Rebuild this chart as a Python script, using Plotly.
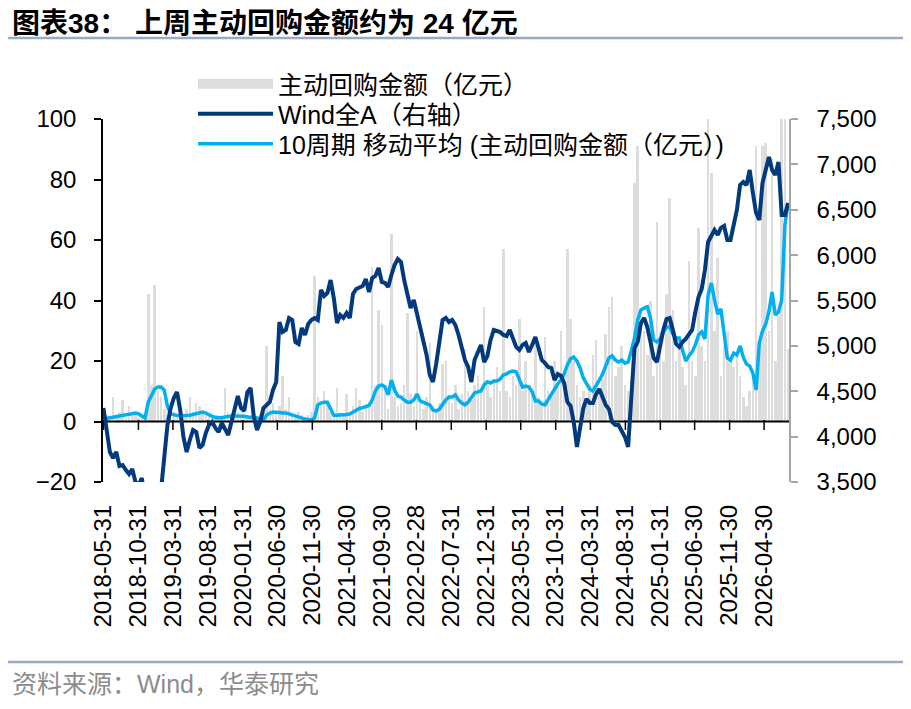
import pandas as pd
import plotly.graph_objects as go

# 主动回购金额（亿元），按两周取点读图
buyback = [1, 2, 1, 8, 2, 3, 7, 1, 5, 2, 3, 1, 2, 1,
           42, 12, 45, 10, 8, 4,
           2, 1, 3, 1, 2, 1, 4, 8, 3, 6, 5, 3, 2, 2, 1, 2,
           1, 2, 11, 3, 2, 1, 3, 2, 1, 2, 1, 3, 1, 2, 3,
           25, 4, 6, 3, 5, 15, 4, 8, 2, 1, 3, 2, 1, 2, 3,
           48, 8, 5, 10, 6, 3, 2, 11, 3, 2, 9, 3, 5, 11, 7, 3, 5, 6,
           51, 12, 37, 32, 10, 4, 62, 8, 5, 6, 12, 36, 9, 5, 30, 6,
           4, 8, 26, 5, 3, 6, 19, 20, 8, 6, 12, 4, 9, 24, 10, 7, 12, 15, 10,
           38, 12, 8, 14, 18, 10, 57, 10, 8, 15, 12, 34, 10, 20, 12, 9, 27,
           8, 6, 28, 10, 8, 20, 12, 30, 15, 57, 34, 20, 12, 8, 10, 6, 12,
           22, 27, 10, 14, 29, 38, 41, 15, 18, 25, 12, 10, 14,
           79, 91, 35, 30, 22, 40, 15, 66, 30, 20, 42, 74, 37, 20, 25, 18, 12, 53, 20, 15, 64, 25, 20,
           105, 82, 30, 54, 15, 25, 30, 20, 18, 22, 15, 8, 5, 10, 14,
           91, 25, 91, 92, 30, 87, 20, 35, 130, 150, 24]

# 10周期移动平均（亿元）
buyback_ma10 = [0.8, 1.0, 1.2, 1.3, 1.5, 1.8, 2.0, 2.3, 2.5, 2.6,
                2.8, 2.5, 1.8, 1.2, 6.4, 8.4, 10.7, 11.4, 11.4, 10.4,
                5.1, 2.5, 2.1, 2.0, 1.8, 1.8, 2.0, 2.1, 2.3, 2.6,
                2.8, 3.1, 2.8, 2.1, 1.7, 1.3, 1.2, 1.2, 1.5, 1.7,
                1.8, 1.8, 1.8, 1.8, 1.7, 1.5, 1.5, 1.3, 1.2, 0.8,
                0.5, 2.1, 2.8, 3.1, 3.1, 3.0, 2.8, 2.8, 2.5, 2.1,
                1.8, 1.3, 1.2, 0.8, 0.7, 0.5, 1.2, 5.5, 6.1, 6.4,
                6.4, 4.1, 2.1, 2.1, 2.1, 2.1, 2.3, 2.5, 3.1, 3.8,
                4.3, 4.6, 5.0, 5.3, 7.1, 10.1, 11.7, 12.1, 11.4, 8.8,
                13.7, 10.4, 8.4, 8.1, 7.1, 6.4, 6.4, 7.1, 9.1, 6.8,
                6.3, 6.0, 5.5, 3.8, 3.5, 4.1, 5.8, 7.1, 8.1, 8.1,
                8.8, 7.1, 6.1, 5.5, 6.4, 7.8, 9.4, 9.8, 10.1, 12.1,
                13.1, 12.7, 13.4, 13.4, 14.0, 15.4, 15.7, 16.4, 16.7, 16.4,
                13.7, 11.4, 11.7, 11.4, 9.8, 6.8, 6.8, 5.8, 5.5, 7.4,
                9.4, 10.7, 12.4, 13.7, 15.7, 18.7, 20.7, 21.3, 20.0, 17.7,
                14.4, 12.4, 10.7, 10.1, 11.7, 13.7, 15.7, 18.3, 21.0, 21.7,
                20.3, 19.7, 20.3, 19.3, 19.7, 23.3, 27.6, 33.6, 36.9, 37.5,
                37.9, 34.2, 26.9, 26.3, 27.3, 29.6, 31.2, 31.2, 28.9, 27.6,
                27.6, 23.6, 20.0, 21.7, 23.0, 25.3, 28.6, 29.6, 27.3, 41.8,
                45.8, 40.2, 35.5, 37.2, 28.6, 21.0, 20.3, 22.6, 22.0, 25.0,
                21.3, 19.0, 18.3, 16.0, 10.4, 26.0, 29.9, 32.2, 36.2, 42.8,
                35.2, 36.2, 40.2, 65.0, 72.2]

# Wind全A（右轴）
wind_a = [4315, 4073, 3831, 3764, 3831, 3676, 3687, 3632, 3588, 3643,
          3500, 3467, 3544, 3302, 3191, 3136, 3169, 3247, 3412, 3798,
          4128, 4315, 4426, 4492, 4293, 3996, 3831, 3963, 4073, 4051,
          3875, 3908, 4040, 4128, 4161, 4095, 4051, 4150, 4084, 4018,
          4161, 4315, 4448, 4315, 4282, 4492, 4536, 4216, 4073, 4161,
          4315, 4349, 4382, 4514, 4602, 5263, 5153, 5175, 5307, 5285,
          5043, 5021, 5197, 5120, 5241, 5285, 5307, 5285, 5616, 5550,
          5583, 5726, 5528, 5252, 5340, 5307, 5362, 5307, 5572, 5627,
          5638, 5660, 5737, 5594, 5748, 5770, 5858, 5704, 5693, 5649,
          5781, 5891, 5957, 5924, 5726, 5572, 5417, 5506, 5362, 5175,
          5065, 4900, 4679, 4602, 4800, 5065, 5285, 5307, 5263, 5285,
          5230, 5120, 4988, 4844, 4767, 4602, 4844, 4933, 5010, 4822,
          4889, 5065, 5175, 5164, 5153, 5120, 5109, 5175, 5087, 4988,
          4955, 5010, 5032, 4933, 5010, 5098, 4977, 4844, 4811, 4767,
          4756, 4624, 4690, 4668, 4591, 4382, 4338, 4161, 3886, 4117,
          4315, 4415, 4371, 4371, 4470, 4525, 4448, 4349, 4304, 4161,
          4128, 4128, 4062, 3996, 3886, 4514, 4977, 5043, 5252, 5307,
          5208, 5043, 4866, 4822, 4999, 5175, 5296, 5307, 5175, 5021,
          4988, 5043, 5076, 5131, 5175, 5373, 5539, 5627, 5836, 6145,
          6211, 6277, 6222, 6299, 6321, 6167, 6167, 6321, 6497, 6773,
          6806, 6773, 6938, 6685, 6464, 6387, 6795, 6938, 7082, 6938,
          6883, 7026, 6442, 6442, 6575]

tick_labels = ["2018-05-31", "2018-10-31", "2019-03-31", "2019-08-31",
               "2020-01-31", "2020-06-30", "2020-11-30", "2021-04-30",
               "2021-09-30", "2022-02-28", "2022-07-31", "2022-12-31",
               "2023-05-31", "2023-10-31", "2024-03-31", "2024-08-31",
               "2025-01-31", "2025-06-30", "2025-11-30", "2026-04-30"]

dates = pd.date_range("2018-05-31", periods=len(wind_a), freq="14D")

GRAY = "#dddddd"
NAVY = "#033a7e"
LIGHT = "#00b0f0"
RULE = "#97abc8"
FONT = "Liberation Sans, Noto Sans CJK SC, sans-serif"

Y1 = [-20, 100]
Y2 = [3500, 7500]

# page has an 8px body margin, so the figure is a bit smaller than the window
OFF = 8
W, H = 911 - 2 * OFF, 709 - 2 * OFF
# plot area in window pixels
PL, PR, PT, PB = 103, 789, 119, 482
Y2_PER_PX = (Y2[1] - Y2[0]) / (PB - PT)
# left-axis zero expressed on the right axis
Y2_ZERO = Y2[0] + (0 - Y1[0]) * (Y2[1] - Y2[0]) / (Y1[1] - Y1[0])


def paper(x, y):
    return (x - PL) / (PR - PL), (PB - y) / (PB - PT)


x_range = [dates[0] - pd.Timedelta(days=2), dates[-1] + pd.Timedelta(days=4)]

fig = go.Figure()
fig.add_trace(go.Bar(
    x=dates, y=buyback, name="主动回购金额（亿元）",
    marker=dict(color=GRAY, line_width=0),
    width=11 * 86400000, showlegend=False))

# legend entry for the bars (wide grey block)
fig.add_trace(go.Scatter(
    x=[None], y=[None], mode="lines", name="主动回购金额（亿元）",
    line=dict(color=GRAY, width=14), legend="legend"))
fig.add_trace(go.Scatter(
    x=dates, y=buyback_ma10, mode="lines",
    name="10周期 移动平均 (主动回购金额（亿元）)",
    line=dict(color=LIGHT, width=3.5), legend="legend3"))

# horizontal axis on the zero level, ticks hanging below it
fig.add_trace(go.Scatter(
    x=x_range, y=[Y2_ZERO, Y2_ZERO], yaxis="y2", mode="lines",
    line=dict(color="black", width=2), showlegend=False, hoverinfo="skip"))
fig.add_trace(go.Scatter(
    x=tick_labels, y=[Y2_ZERO - 3.5 * Y2_PER_PX] * len(tick_labels),
    yaxis="y2", mode="markers",
    marker=dict(symbol="line-ns", size=7, line=dict(color="black", width=1.5)),
    showlegend=False, hoverinfo="skip"))

fig.add_trace(go.Scatter(
    x=dates, y=wind_a, yaxis="y2", mode="lines", name="Wind全A（右轴）",
    line=dict(color=NAVY, width=4), legend="legend2"))

legend_style = dict(xanchor="left", yanchor="top", bgcolor="rgba(0,0,0,0)",
                    itemwidth=75, font=dict(family=FONT, size=25, color="black"))

fig.update_layout(
    width=W, height=H, autosize=False,
    margin=dict(l=PL - OFF, r=W + OFF - PR, t=PT - OFF, b=H + OFF - PB),
    paper_bgcolor="white", plot_bgcolor="white",
    font=dict(family=FONT, size=24, color="black"),
    bargap=0,
    xaxis=dict(
        type="date", range=x_range,
        tickmode="array", tickvals=tick_labels, ticktext=tick_labels,
        tickangle=-90, ticks="", showline=False, showgrid=False,
        zeroline=False, tickfont=dict(size=24), ticklabelstandoff=17),
    yaxis=dict(
        range=Y1, tickmode="linear", tick0=-20, dtick=20,
        ticks="outside", ticklen=7, tickwidth=1.5, tickcolor="black",
        showline=True, linecolor="black", linewidth=1.5,
        showgrid=False, zeroline=False, ticklabelstandoff=13),
    yaxis2=dict(
        range=Y2, overlaying="y", side="right",
        tickmode="linear", tick0=3500, dtick=500, tickformat=",",
        ticks="outside", ticklen=7, tickwidth=1.5, tickcolor="#a6a6a6",
        showline=True, linecolor="#a6a6a6", linewidth=1.5,
        showgrid=False, zeroline=False, ticklabelstandoff=14),
    legend=dict(x=paper(193, 0)[0], y=paper(0, 61)[1], **legend_style),
    legend2=dict(x=paper(193, 0)[0], y=paper(0, 91)[1], **legend_style),
    legend3=dict(x=paper(193, 0)[0], y=paper(0, 121)[1], **legend_style),
)

x0, _ = paper(5, 0)
x1, _ = paper(906, 0)
_, y_top = paper(0, 38)
_, y_bot = paper(0, 662)
for yy in (y_top, y_bot):
    fig.add_shape(type="line", xref="paper", yref="paper",
                  x0=x0, x1=x1, y0=yy, y1=yy,
                  line=dict(color=RULE, width=2.5))

tx, ty = paper(10, 23)
fig.add_annotation(text="<b>图表38： 上周主动回购金额约为 24 亿元</b>",
                   xref="paper", yref="paper", x=tx, y=ty,
                   xanchor="left", yanchor="middle", showarrow=False,
                   font=dict(family=FONT, size=28, color="black"))
sx, sy = paper(10, 684)
fig.add_annotation(text="资料来源：Wind，华泰研究",
                   xref="paper", yref="paper", x=sx, y=sy,
                   xanchor="left", yanchor="middle", showarrow=False,
                   font=dict(family=FONT, size=25, color="#8c8c8c"))

fig.write_html("out.html")
